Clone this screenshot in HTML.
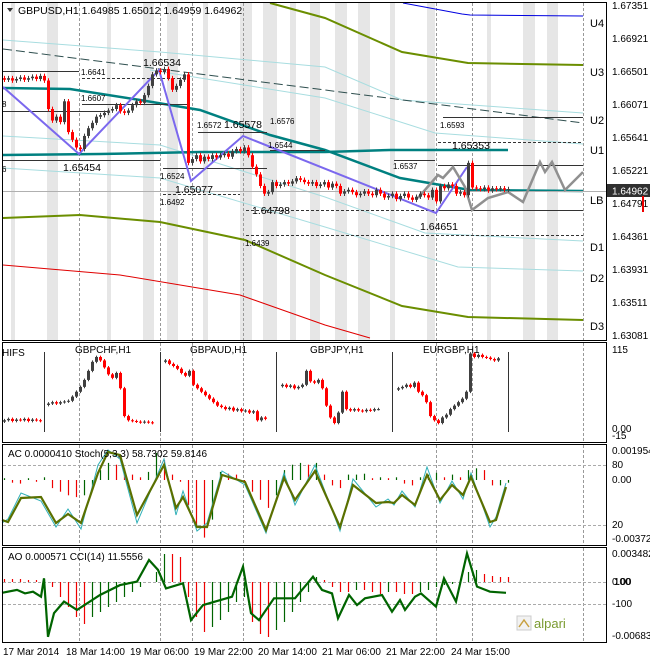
<!DOCTYPE html>
<html><head><meta charset="utf-8"><style>
body{margin:0;background:#fff;}
svg{display:block;font-family:"Liberation Sans",sans-serif;}
</style></head><body>
<svg id="c" width="650" height="660" viewBox="0 0 650 660">
<rect x="0" y="0" width="650" height="660" fill="#fff"/>
<g id="bands"></g>
<g id="grid"></g>
<g id="levels"></g>
<g id="candles"></g>
<g id="ifs"></g>
<g id="ac"></g>
<g id="ao"></g>
<g id="frames">
<rect x="2.5" y="2.5" width="604" height="338" fill="none" stroke="#000"/>
<rect x="2.5" y="342.5" width="604" height="100" fill="none" stroke="#000"/>
<rect x="2.5" y="444.5" width="604" height="101" fill="none" stroke="#000"/>
<rect x="2.5" y="547.5" width="604" height="95" fill="none" stroke="#000"/>
</g>
<g id="txt" font-size="10" fill="#000">
<path d="M7 8 L13 8 L10 12 Z" fill="#333"/>
<text x="18" y="14" font-size="10.5">GBPUSD,H1  1.64985 1.65012 1.64959 1.64962</text>
<text x="2" y="356">HIFS</text>
<text x="75" y="353">GBPCHF,H1</text>
<text x="190" y="353">GBPAUD,H1</text>
<text x="310" y="353">GBPJPY,H1</text>
<text x="423" y="353">EURGBP,H1</text>
<text x="8" y="457">AC 0.0000410  Stoch(5,3,3) 58.7302 59.8146</text>
<text x="8" y="560">AO 0.000571  CCI(14) 11.5556</text>
<g font-size="10">
<text x="3" y="655">17 Mar 2014</text><text x="66" y="655">18 Mar 14:00</text><text x="130" y="655">19 Mar 06:00</text><text x="194" y="655">19 Mar 22:00</text><text x="258" y="655">20 Mar 14:00</text><text x="322" y="655">21 Mar 06:00</text><text x="386" y="655">21 Mar 22:00</text><text x="451" y="655">24 Mar 15:00</text>
</g>
<g font-size="10">
<text x="612" y="9">1.67351</text><text x="612" y="42">1.66921</text><text x="612" y="75">1.66501</text><text x="612" y="108">1.66071</text><text x="612" y="141">1.65641</text><text x="612" y="174">1.65221</text><text x="612" y="207">1.64791</text><text x="612" y="240">1.64361</text><text x="612" y="273">1.63931</text><text x="612" y="306">1.63511</text><text x="612" y="339">1.63081</text>
</g>
<rect x="607" y="184" width="43" height="13" fill="#303030"/>
<text x="612" y="194.5" fill="#fff">1.64962</text>
<rect x="642" y="196" width="2" height="16" fill="#e00"/>
<g font-size="11">
<text x="590" y="27">U4</text><text x="590" y="76">U3</text><text x="590" y="124">U2</text><text x="590" y="154">U1</text><text x="590" y="204">LB</text><text x="590" y="251">D1</text><text x="590" y="282">D2</text><text x="590" y="330">D3</text>
</g>
<g font-size="10"><text x="612" y="353">115</text><text x="612" y="432">0.00</text><text x="612" y="439">-15</text></g>
<g font-size="10"><text x="612" y="454">0.001954</text><text x="612" y="468">80</text><text x="612" y="483">0.00</text><text x="612" y="528">20</text><text x="612" y="542">-0.003720</text></g>
<g font-size="10"><text x="612" y="557">0.003482</text><text x="612" y="585">0.00</text><text x="614" y="585">100</text><text x="612" y="607">-100</text><text x="612" y="639">-0.006833</text></g>
<g font-size="8">
<text x="81" y="75">1.6641</text><text x="81" y="101">1.6607</text><text x="197" y="128">1.6572</text><text x="270" y="124">1.6576</text><text x="268" y="148">1.6544</text><text x="160" y="179">1.6524</text><text x="160" y="205">1.6492</text><text x="245" y="246">1.6439</text><text x="440" y="128">1.6593</text><text x="393" y="169">1.6537</text><text x="2" y="107">8</text><text x="2" y="172">6</text>
</g>
<g font-size="10.5">
<text x="143" y="66">1.66534</text><text x="63" y="171">1.65454</text><text x="224" y="128">1.65578</text><text x="175" y="193">1.65077</text><text x="252" y="214">1.64798</text><text x="452" y="149">1.65353</text><text x="420" y="230">1.64651</text>
</g>
<g>
<rect x="517" y="616" width="14" height="14" fill="#f2f2f2" stroke="#ccc"/>
<path d="M519 627 L524 620 L529 627" stroke="#c8a040" fill="none" stroke-width="1.5"/>
<text x="534" y="628" font-size="13" fill="#7a9a30">alpari</text>
</g>
</g>
</svg>
<script>
// ===== main chart data =====
const closes = [1.6638,1.6640,1.6637,1.6639,1.6641,1.6638,1.6640,1.6642,1.6639,1.6643,1.6637,
1.6600,1.6585,1.6590,1.6583,1.6610,
1.6570,1.6560,1.6550,1.6548,
1.6565,1.6575,1.6582,1.6590,1.6592,1.6595,
1.6598,1.6600,1.6605,1.6597,1.6595,1.6598,1.6605,1.6610,1.6608,
1.6618,1.6630,1.6645,1.6650,1.6648,1.6652,
1.6640,1.6625,1.6630,1.6638,1.6645,1.6530,
1.6535,1.6540,1.6532,1.6538,1.6535,1.6540,1.6537,1.6540,1.6542,1.6538,1.6545,1.6548,1.6545,1.6550,
1.6540,1.6525,1.6515,1.6500,1.6490,1.6492,1.6505,
1.6500,1.6502,1.6505,1.6503,1.6506,1.6510,1.6508,1.6505,1.6503,1.6505,1.6500,1.6502,1.6505,1.6498,1.6503,1.6500,1.6490,1.6493,
1.6495,1.6492,1.6488,1.6490,1.6493,1.6490,1.6488,1.6495,1.6490,1.6485,1.6487,1.6490,1.6483,1.6487,1.6490,1.6485,1.6482,1.6486,1.6490,1.6488,1.6485,1.6495,1.6480,
1.6500,1.6497,1.6502,1.6500,1.6490,1.6492,1.6488,1.6530,1.6498,1.6497,
1.6496,1.6498,1.6494,1.6497,1.6496,1.6497,1.6495,1.6496];
// IFS segments (0..115 scale)
const ifs0 = [14,16,13,15,14,16,13,15,14,13];
const ifs1 = [38,40,38,40,41,42,48,55,62,72,85,98,105,100,90,80,75,82,60,20,14,13,12,11,12,11,10];
const ifs2 = [100,95,92,88,82,78,85,65,60,55,50,45,40,35,33,30,32,28,30,27,28,25,27,14,18,16];
const ifs3 = [65,62,64,60,62,65,85,70,68,72,60,35,18,10,25,55,30,28,30,28,27,29,28,30,30];
const ifs4 = [60,62,65,62,68,55,50,40,20,14,10,18,22,30,35,40,45,55,110,105,108,105,104,102,100,103];
// AC histogram (1e-5 units), one per 8px
const acVals = [10,-15,-20,10,-10,15,-45,-65,-85,-95,-85,-55,55,95,85,65,30,15,45,150,110,30,-10,-140,-250,-320,-220,45,35,30,-15,-65,-110,-155,-85,55,85,95,85,95,30,-30,-45,30,30,35,10,15,10,15,-20,-30,15,30,40,15,30,15,55,65,55,-30,-30,-15];
// Stochastic main / signal
const stochX = [2,8,21,41,56,68,81,98,108,120,137,164,176,183,197,207,222,245,266,284,295,315,340,353,376,388,394,402,415,427,440,452,463,471,490,496,506];
const stochMain = [25,23,47,48,22,31,22,72,93,90,30,80,37,48,18,18,70,63,15,67,45,74,18,60,42,43,42,50,40,70,45,60,50,68,23,25,58];
const stochSig = [22,26,52,44,18,36,16,80,95,86,22,86,30,54,14,22,74,60,12,72,40,80,14,66,38,46,40,54,38,78,42,64,46,72,18,28,62];
// AO histogram (px-scaled units), one per 8px
const aoVals = [3,3,3,2,2,3,-5,-15,-25,-35,-42,-35,-30,-25,-20,-15,-10,-5,0,10,28,28,25,-15,-35,-50,-45,-38,-30,-20,-15,-40,-52,-55,-48,-40,-30,-20,-10,5,2,-5,-10,-10,-8,-8,-10,-12,-10,-10,-12,-12,-10,-8,-5,-3,-2,0,10,12,8,6,5,5];
// CCI
const cciX = [2,17,25,33,41,44,48,54,64,77,100,120,137,149,158,166,183,191,203,232,243,251,259,274,295,313,322,332,338,349,357,365,382,392,400,405,415,421,436,444,456,467,477,490,506];
const cciVals = [1,14,-2,6,-17,67,-199,-92,-39,-77,-9,36,52,150,105,21,44,-123,-55,-17,120,-92,-123,-24,-24,74,14,-2,-115,-9,-55,-24,-9,-85,-32,-77,-17,-2,-62,67,-39,180,29,6,1];

const NS='http://www.w3.org/2000/svg';
function mk(tag,attrs,parent){const e=document.createElementNS(NS,tag);for(const k in attrs)e.setAttribute(k,attrs[k]);parent.appendChild(e);return e;}
const G=id=>document.getElementById(id);

// axis functions
const yP = p => 5 + (1.67351-p)/0.0043*33.1;
const xBar = i => 4 + i*4;
const yIfs = v => 430 - v*80/115;
const yAc = v => 480 - v*0.18;
const yStoch = v => 545 - v;
const yAo = v => 582 - v;
const yCci = v => 593 - v*0.22;

// bands
[[11,4],[47,11],[107,4],[143,11],[167,11],[203,5],[240,12],[263,14],[290,6],[310,10],[335,12],[358,12],[390,5],[427,8],[487,4],[523,12],[547,11]].forEach(b=>{
  const r=mk('rect',{x:b[0],y:3,width:b[1],height:337,fill:'#e6e6e6'},G('bands'));
  
  
});
// vertical dashed grid
[79,160,192,243,436,472,583].forEach(x=>{
  [[3,340],[343,442],[445,545],[548,642]].forEach(s=>{
    const l=mk('line',{x1:x+0.5,x2:x+0.5,y1:s[0],y2:s[1],stroke:'#999','stroke-dasharray':'3,2'},G('grid'));
    
    
  });
});
// level lines / indicator curves
function pl(pts,st,name){const p=mk('polyline',{points:pts.map(a=>a.join(',')).join(' '),fill:'none',...st},G('levels'));}
pl([[403,3],[462,14],[470,15],[583,16]],{stroke:'#0000e0','stroke-width':1},'u4-line');
pl([[270,3],[325,18],[402,52],[468,63],[583,65]],{stroke:'#6b8e00','stroke-width':2},'u3-line');
pl([[3,218],[80,215],[160,222],[245,240],[325,275],[402,306],[468,317],[583,320]],{stroke:'#6b8e00','stroke-width':2},'d3-line');
pl([[3,265],[120,275],[240,295],[325,325],[370,338]],{stroke:'#e00000','stroke-width':1},'d4-line');
pl([[3,40],[160,52],[325,67],[402,100],[583,113]],{stroke:'#a8dde0'},'band-1');
pl([[150,70],[325,98],[435,133],[583,144]],{stroke:'#a8dde0'},'band-2');
pl([[3,136],[160,145],[325,197],[425,233],[583,241]],{stroke:'#a8dde0'},'band-3');
pl([[3,168],[160,178],[325,227],[458,267],[583,271]],{stroke:'#a8dde0'},'band-4');
pl([[3,49],[325,90],[583,123]],{stroke:'#2f4f4f','stroke-dasharray':'9,4'},'long-ma-dashed');
pl([[3,88],[70,89],[140,100],[200,110],[270,135],[325,150],[400,178],[470,190],[583,191]],{stroke:'#008080','stroke-width':2.5},'ma-line');
pl([[3,155],[100,154],[200,152],[325,152],[390,150],[508,150]],{stroke:'#008080','stroke-width':2.5},'ma-horizontal');
pl([[3,191.5],[606,191.5]],{stroke:'#b0b0b0'},'bid-line');
const hl=[[0,79,71,0],[79,190,78,1],[79,190,104,0],[0,107,111,0],[195,267,132,0],[0,160,160,0],[160,267,168,0],[160,240,194,1],[243,435,210,1],[435,583,210,0],[243,583,235,1],[440,583,117,0],[435,583,142,1],[391,435,160,0],[435,583,165,0],[267,325,150,0]];
hl.forEach(h=>pl([[h[0]+3,h[2]+.5],[h[1],h[2]+.5]],h[3]?{stroke:'#333','stroke-dasharray':'3,2'}:{stroke:'#333'},'level-segment'));
pl([[3,87],[79,154],[159,70],[191,181],[243,136],[436,213],[467,167]],{stroke:'#7b68ee','stroke-width':2},'zigzag');
pl([[418,198],[438,175],[443,178],[453,167],[465,187],[472,210],[488,198],[508,192],[523,202],[540,162],[545,172],[552,162],[565,190],[583,172]],{stroke:'#909090','stroke-width':2.5},'projection-line');

// candles
function candle(parent,x,o,c,yf,dh,name,bw){
  const hi=Math.max(o,c)+dh, lo=Math.min(o,c)-dh;
  const col = c>=o ? '#404040' : '#ff0000';
  const w=mk('line',{x1:x+.5,x2:x+.5,y1:yf(hi),y2:yf(lo),stroke:col},parent);
  
  
  const t=Math.min(yf(o),yf(c)), h=Math.max(1,Math.abs(yf(o)-yf(c)));
  const b=mk('rect',{x:x-1,y:t,width:bw,height:h,fill:col},parent);
  
  
}
closes.forEach((c,i)=>{const o=i?closes[i-1]:c+0.0002;candle(G('candles'),xBar(i),o,c,yP,0.0003,'candle',3);});
[[ifs0,4],[ifs1,48],[ifs2,165],[ifs3,282],[ifs4,398]].forEach(([arr,x0])=>{
  arr.forEach((c,i)=>{const o=i?arr[i-1]:c-2;candle(G('ifs'),x0+i*4,o,c,yIfs,2,'ifs-candle',3);});
});
[44,160,276,392,508].forEach(x=>{const l=mk('line',{x1:x+.5,x2:x+.5,y1:352,y2:432,stroke:'#333'},G('ifs'));});

// AC panel
[[465],[525]].forEach(v=>{const l=mk('line',{x1:3,x2:606,y1:v[0]+.5,y2:v[0]+.5,stroke:'#aaa','stroke-dasharray':'3,2'},G('ac'));});
acVals.forEach((v,i)=>{const x=4+i*8;const col=(i&&v<acVals[i-1])?'#e00':'#006400';
  const l=mk('line',{x1:x+.5,x2:x+.5,y1:yAc(0),y2:yAc(v),stroke:col,'stroke-width':1.2},G('ac'));
  
  });
function line(parent,xs,vs,yf,st,name){const p=mk('polyline',{points:xs.map((x,i)=>x+','+yf(vs[i]).toFixed(1)).join(' '),fill:'none',...st},parent);}
line(G('ac'),stochX,stochSig,yStoch,{stroke:'#30b0b8','stroke-width':1},'stoch-signal');
line(G('ac'),stochX,stochMain,yStoch,{stroke:'#5a7000','stroke-width':2.2},'stoch-main');

// AO panel
[[582],[604]].forEach(v=>{const l=mk('line',{x1:3,x2:606,y1:v[0]+.5,y2:v[0]+.5,stroke:'#aaa','stroke-dasharray':'3,2'},G('ao'));});
aoVals.forEach((v,i)=>{const x=4+i*8;const col=(i&&v>aoVals[i-1])?'#006400':'#e00';
  const l=mk('line',{x1:x+.5,x2:x+.5,y1:yAo(0),y2:yAo(v),stroke:col,'stroke-width':1.2},G('ao'));
  
  });
line(G('ao'),cciX,cciVals,yCci,{stroke:'#006400','stroke-width':2.2},'cci-line');
</script>
</body></html>
